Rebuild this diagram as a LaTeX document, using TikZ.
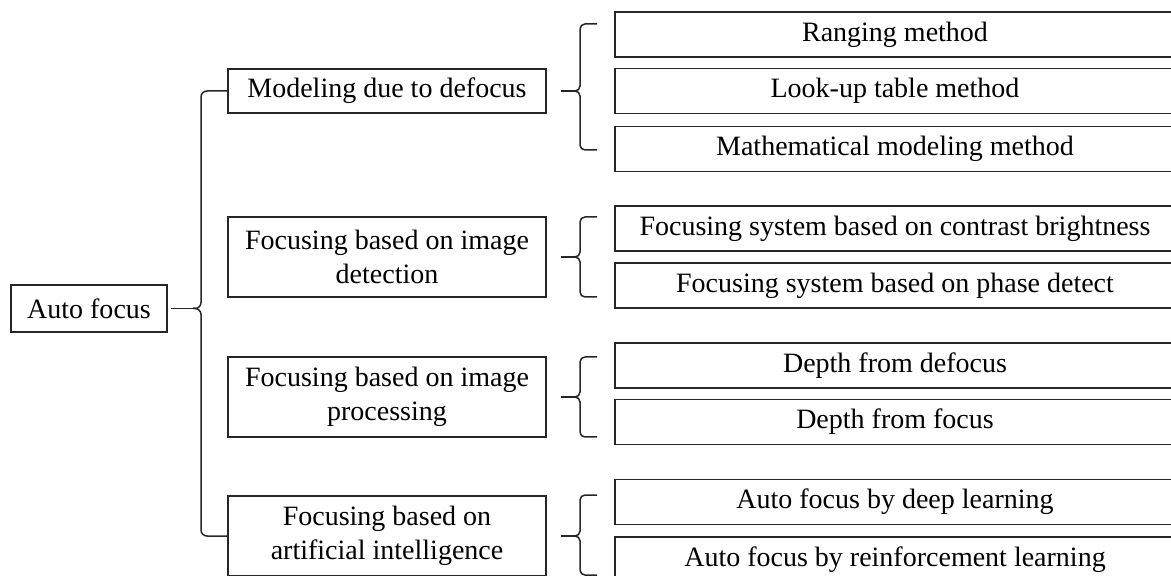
\documentclass[tikz,border=0pt]{standalone}
\usepackage{fontspec}
\setmainfont{Liberation Serif}
\begin{document}
\begin{tikzpicture}[
    x=0.5pt, y=-0.5pt,
    box/.style={draw=black!85, line width=0.75pt, align=center, inner sep=0pt,
                font=\fontsize{14}{17}\selectfont},
    branch/.style={box, minimum width=159pt},
    leaf/.style={box, minimum width=280pt, minimum height=22.5pt},
    brace/.style={draw=black!85, line width=0.75pt, rounded corners=2.5pt}
    ]
    \useasboundingbox (0,0) rectangle (1171,576);
    \clip (0,0) rectangle (1171,576);
    % root and branches
    \node[box, minimum width=78pt, minimum height=23.5pt] (af) at (89,308.5) {Auto focus};
    \node[branch, minimum height=22pt] (m1) at (387,91) {Modeling due to defocus};
    \node[branch, minimum height=40pt] (fd) at (387,257) {Focusing based on image\\detection};
    \node[branch, minimum height=40pt] (fp) at (387,397) {Focusing based on image\\processing};
    \node[branch, minimum height=40pt] (fa) at (387,536) {Focusing based on\\artificial intelligence};
    % leaves
    \node[leaf] (rm) at (895,34.5) {Ranging method};
    \node[leaf] (lu) at (895,91) {Look-up table method};
    \node[leaf] (mm) at (895,149) {Mathematical modeling method};
    \node[leaf] (cb) at (895,228.5) {Focusing system based on contrast brightness};
    \node[leaf] (pd) at (895,285.5) {Focusing system based on phase detect};
    \node[leaf] (dd) at (895,365.5) {Depth from defocus};
    \node[leaf] (df) at (895,422) {Depth from focus};
    \node[leaf] (dl) at (895,502) {Auto focus by deep learning};
    \node[leaf] (rl) at (895,559.5) {Auto focus by reinforcement learning};
    % big brace
    \coordinate (t0) at (193,308.5);
    \coordinate (v0) at (201,308.5);
    \draw[brace, shorten <=1.5pt] (af.east) -- (t0);
    \draw[brace, rounded corners=3pt] (m1.west) -| (v0) -- (t0);
    \draw[brace, rounded corners=3pt] (t0) -- (v0) |- (fa.west);
    % small braces
    \coordinate (t1) at (575,91);  \coordinate (v1) at (580,91);
    \coordinate (a1) at (597,24);  \coordinate (b1) at (597,150);
    \draw[brace, shorten <=7pt] (m1.east) -- (t1);
    \draw[brace] (a1) -| (v1) -- (t1);
    \draw[brace] (t1) -- (v1) |- (b1);
    \coordinate (t2) at (575,257); \coordinate (v2) at (580,257);
    \coordinate (a2) at (597,217); \coordinate (b2) at (597,297);
    \draw[brace, shorten <=7pt] (fd.east) -- (t2);
    \draw[brace] (a2) -| (v2) -- (t2);
    \draw[brace] (t2) -- (v2) |- (b2);
    \coordinate (t3) at (575,397); \coordinate (v3) at (580,397);
    \coordinate (a3) at (597,357); \coordinate (b3) at (597,437);
    \draw[brace, shorten <=7pt] (fp.east) -- (t3);
    \draw[brace] (a3) -| (v3) -- (t3);
    \draw[brace] (t3) -- (v3) |- (b3);
    \coordinate (t4) at (575,536); \coordinate (v4) at (580,536);
    \coordinate (a4) at (597,495); \coordinate (b4) at (597,575);
    \draw[brace, shorten <=7pt] (fa.east) -- (t4);
    \draw[brace] (a4) -| (v4) -- (t4);
    \draw[brace] (t4) -- (v4) |- (b4);
\end{tikzpicture}
\end{document}
